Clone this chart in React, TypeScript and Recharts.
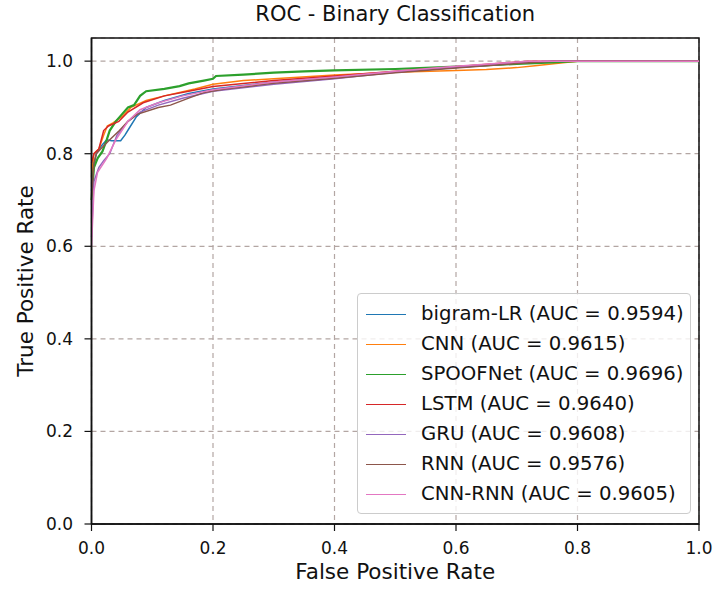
import React from "react";
import { LineChart, Line, XAxis, YAxis, CartesianGrid, ReferenceArea } from "recharts";

const xTicks = [0, 0.2, 0.4, 0.6, 0.8, 1.0];
const yTicks = [0, 0.2, 0.4, 0.6, 0.8, 1.0];

const bigramFpr = [0, 0.003, 0.008, 0.015, 0.025, 0.033, 0.048, 0.055, 0.062, 0.074, 0.09, 0.12, 0.16, 0.2, 0.3, 0.4, 0.5, 0.6, 0.7, 0.78, 1.0];
const bigramTpr = [0.72, 0.77, 0.8, 0.815, 0.83, 0.828, 0.828, 0.84, 0.855, 0.88, 0.9, 0.915, 0.93, 0.94, 0.955, 0.966, 0.977, 0.986, 0.995, 1.0, 1.0];

const cnnFpr = [0, 0.004, 0.012, 0.02, 0.026, 0.036, 0.05, 0.065, 0.09, 0.12, 0.17, 0.2, 0.25, 0.3, 0.4, 0.5, 0.6, 0.65, 0.7, 0.73, 0.78, 0.8, 1.0];
const cnnTpr = [0.75, 0.8, 0.81, 0.84, 0.86, 0.867, 0.88, 0.9, 0.915, 0.925, 0.94, 0.95, 0.958, 0.962, 0.97, 0.976, 0.98, 0.982, 0.986, 0.99, 0.997, 1.0, 1.0];

const spoofFpr = [0, 0.004, 0.01, 0.018, 0.025, 0.03, 0.04, 0.05, 0.06, 0.07, 0.08, 0.09, 0.12, 0.145, 0.16, 0.185, 0.2, 0.205, 0.25, 0.3, 0.35, 0.4, 0.5, 0.6, 0.7, 0.75, 0.8, 1.0];
const spoofTpr = [0.7, 0.77, 0.79, 0.805, 0.83, 0.85, 0.87, 0.885, 0.9, 0.905, 0.925, 0.935, 0.94, 0.946, 0.952, 0.958, 0.962, 0.968, 0.971, 0.975, 0.978, 0.98, 0.983, 0.988, 0.994, 0.997, 1.0, 1.0];

const lstmFpr = [0, 0.004, 0.012, 0.02, 0.028, 0.045, 0.06, 0.085, 0.12, 0.16, 0.2, 0.3, 0.4, 0.5, 0.6, 0.7, 0.72, 1.0];
const lstmTpr = [0.78, 0.8, 0.81, 0.85, 0.86, 0.87, 0.89, 0.91, 0.925, 0.935, 0.945, 0.958, 0.968, 0.978, 0.988, 0.998, 1.0, 1.0];

const gruFpr = [0, 0.004, 0.012, 0.02, 0.03, 0.042, 0.06, 0.08, 0.11, 0.15, 0.2, 0.3, 0.4, 0.5, 0.6, 0.7, 0.75, 1.0];
const gruTpr = [0.62, 0.74, 0.77, 0.785, 0.8, 0.84, 0.87, 0.89, 0.905, 0.92, 0.935, 0.95, 0.962, 0.976, 0.987, 0.996, 1.0, 1.0];

const rnnFpr = [0, 0.004, 0.008, 0.015, 0.03, 0.046, 0.06, 0.075, 0.11, 0.13, 0.16, 0.185, 0.22, 0.3, 0.4, 0.5, 0.6, 0.7, 0.76, 1.0];
const rnnTpr = [0.7, 0.78, 0.8, 0.81, 0.83, 0.85, 0.87, 0.885, 0.9, 0.905, 0.92, 0.932, 0.94, 0.952, 0.963, 0.975, 0.985, 0.995, 1.0, 1.0];

const cnnRnnFpr = [0, 0.004, 0.01, 0.025, 0.04, 0.06, 0.08, 0.11, 0.15, 0.2, 0.3, 0.4, 0.5, 0.6, 0.7, 0.72, 1.0];
const cnnRnnTpr = [0.6, 0.72, 0.76, 0.79, 0.83, 0.87, 0.895, 0.91, 0.925, 0.938, 0.955, 0.966, 0.978, 0.989, 0.998, 1.0, 1.0];

const seriesNames = ["bigram-LR", "CNN", "SPOOFNet", "LSTM", "GRU", "RNN", "CNN-RNN"];
const seriesAuc = ["0.9594", "0.9615", "0.9696", "0.9640", "0.9608", "0.9576", "0.9605"];
const seriesColors = ["#1f77b4", "#ff7f0e", "#2ca02c", "#d62728", "#9467bd", "#8c564b", "#e377c2"];
const seriesFpr = [bigramFpr, cnnFpr, spoofFpr, lstmFpr, gruFpr, rnnFpr, cnnRnnFpr];
const seriesTpr = [bigramTpr, cnnTpr, spoofTpr, lstmTpr, gruTpr, rnnTpr, cnnRnnTpr];

const series = seriesNames.map((name, i) => ({
  name,
  label: `${name} (AUC = ${seriesAuc[i]})`,
  color: seriesColors[i],
  data: seriesFpr[i].map((x, j) => ({ x, y: seriesTpr[i][j] })),
}));

const FONT = "'DejaVu Sans', sans-serif";

export default function App() {
  return (
    <div
      style={{
        position: "absolute",
        left: 0,
        top: 0,
        width: 715,
        height: 591,
        background: "#fff",
        fontFamily: FONT,
        color: "#111",
      }}
    >
      <div
        style={{
          position: "absolute",
          left: 91.5,
          width: 607.5,
          top: 2,
          textAlign: "center",
          fontSize: 21,
          lineHeight: "24px",
        }}
      >
        ROC - Binary Classification
      </div>
      <LineChart width={715} height={591} margin={{ top: 38, right: 16, bottom: 0, left: 0 }}>
        <CartesianGrid stroke="#b3a6a3" strokeDasharray="5 4" strokeWidth={1.2} />
        <XAxis
          type="number"
          dataKey="x"
          domain={[0, 1]}
          ticks={xTicks}
          tickFormatter={(v: number) => v.toFixed(1)}
          height={67}
          tickSize={7}
          tickMargin={11}
          tick={{ fontSize: 17, fill: "#111" }}
          axisLine={{ stroke: "#111", strokeWidth: 1.5 }}
          tickLine={{ stroke: "#111", strokeWidth: 1.2 }}
          label={{ value: "False Positive Rate", position: "insideBottom", offset: 12, fontSize: 21.5, fill: "#111" }}
        />
        <YAxis
          type="number"
          domain={[0, 1.05]}
          ticks={yTicks}
          tickFormatter={(v: number) => v.toFixed(1)}
          width={91.5}
          tickSize={7}
          tickMargin={11.5}
          tick={{ fontSize: 17, fill: "#111" }}
          axisLine={{ stroke: "#111", strokeWidth: 1.5 }}
          tickLine={{ stroke: "#111", strokeWidth: 1.2 }}
          label={{
            value: "True Positive Rate",
            angle: -90,
            position: "insideLeft",
            offset: 25,
            fontSize: 21.5,
            fill: "#111",
            style: { textAnchor: "middle" },
          }}
        />
        {series.map((s) => (
          <Line
            key={s.name}
            data={s.data}
            dataKey="y"
            name={s.label}
            type="linear"
            stroke={s.color}
            strokeWidth={s.name === "SPOOFNet" ? 2.2 : 1.5}
            dot={false}
            activeDot={false}
            isAnimationActive={false}
          />
        ))}
        <ReferenceArea x1={0} x2={1} y1={0} y2={1.05} fill="none" fillOpacity={0} stroke="#111" strokeWidth={1.5} />
      </LineChart>
      <div
        style={{
          position: "absolute",
          left: 357,
          top: 293,
          width: 334,
          height: 221,
          boxSizing: "border-box",
          border: "1px solid #cccccc",
          borderRadius: 4,
          background: "rgba(255,255,255,0.8)",
          padding: "5px 0",
        }}
      >
        {series.map((s) => (
          <div key={s.name} style={{ height: 30, display: "flex", alignItems: "center", whiteSpace: "nowrap" }}>
            <div style={{ marginLeft: 8, width: 40, height: 0, borderTop: `1.5px solid ${s.color}` }} />
            <span style={{ marginLeft: 15, fontSize: 19.7, lineHeight: "30px" }}>{s.label}</span>
          </div>
        ))}
      </div>
    </div>
  );
}
